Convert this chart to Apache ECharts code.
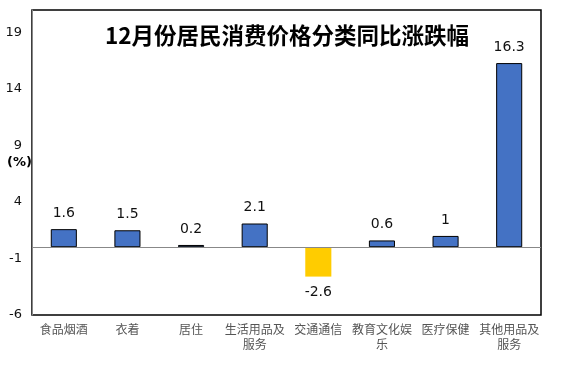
<!DOCTYPE html>
<html>
<head>
<meta charset="utf-8">
<script src="https://cdn.jsdelivr.net/npm/echarts@6/dist/echarts.min.js"></script>
<style>
html,body{margin:0;padding:0;background:#fff;}
#c{width:574px;height:374px;}
</style>
</head>
<body>
<div id="c"></div>
<script>
const titleText = '12月份居民消费价格分类同比涨跌幅';
const categories = ['食品烟酒', '衣着', '居住', '生活用品及\n服务', '交通通信', '教育文化娱\n乐', '医疗保健', '其他用品及\n服务'];
const values = [1.6, 1.5, 0.2, 2.1, -2.6, 0.6, 1, 16.3];
const yTicks = [-6, -1, 4, 9, 14, 19];
const yUnit = '(%)';

const chart = echarts.init(document.getElementById('c'));
const data = values.map(v => ({
  value: v,
  itemStyle: v < 0 ? {color: '#FFCC00', borderWidth: 0} : {color: '#4472C4', borderColor: '#000', borderWidth: 1},
  label: {position: v < 0 ? 'bottom' : 'top'}
}));
chart.setOption({
  animation: false,
  title: {
    text: titleText,
    left: 'center',
    top: 19,
    textStyle: {fontFamily: 'Noto Sans CJK SC', fontWeight: 'bold', fontSize: 22.5, color: '#000'}
  },
  grid: {left: 32, right: 33, top: 10, bottom: 59, show: true, borderColor: '#000', borderWidth: 1.5, containLabel: false, outerBoundsMode: 'none'},
  xAxis: {
    type: 'category',
    data: categories,
    axisLine: {show: false, onZero: false},
    axisTick: {show: false},
    axisLabel: {fontFamily: 'Noto Sans CJK SC', fontSize: 12, color: '#555', margin: 7, lineHeight: 15, interval: 0}
  },
  yAxis: {
    type: 'value',
    min: yTicks[0],
    max: 21,
    interval: 5,
    name: yUnit,
    nameLocation: 'middle',
    nameRotate: 0,
    nameGap: 0,
    nameMoveOverlap: false,
    nameTextStyle: {fontFamily: 'DejaVu Sans', fontWeight: 'bold', fontSize: 13, color: '#000'},
    axisLine: {show: true, lineStyle: {color: '#888', width: 1}},
    axisTick: {show: false},
    splitLine: {show: false},
    axisLabel: {
      fontFamily: 'DejaVu Sans', fontSize: 13, color: '#111', margin: 10, showMaxLabel: false,
      formatter: v => yTicks.includes(v) ? String(v) : ''
    }
  },
  series: [{
    type: 'bar',
    data: data,
    barWidth: '41%',
    label: {show: true, distance: 9, fontFamily: 'DejaVu Sans', fontSize: 14, color: '#111', formatter: p => String(p.value)},
    markLine: {
      silent: true,
      symbol: 'none',
      label: {show: false},
      lineStyle: {color: '#888', width: 1, type: 'solid'},
      data: [{yAxis: 0}]
    }
  }]
});
</script>
</body>
</html>
